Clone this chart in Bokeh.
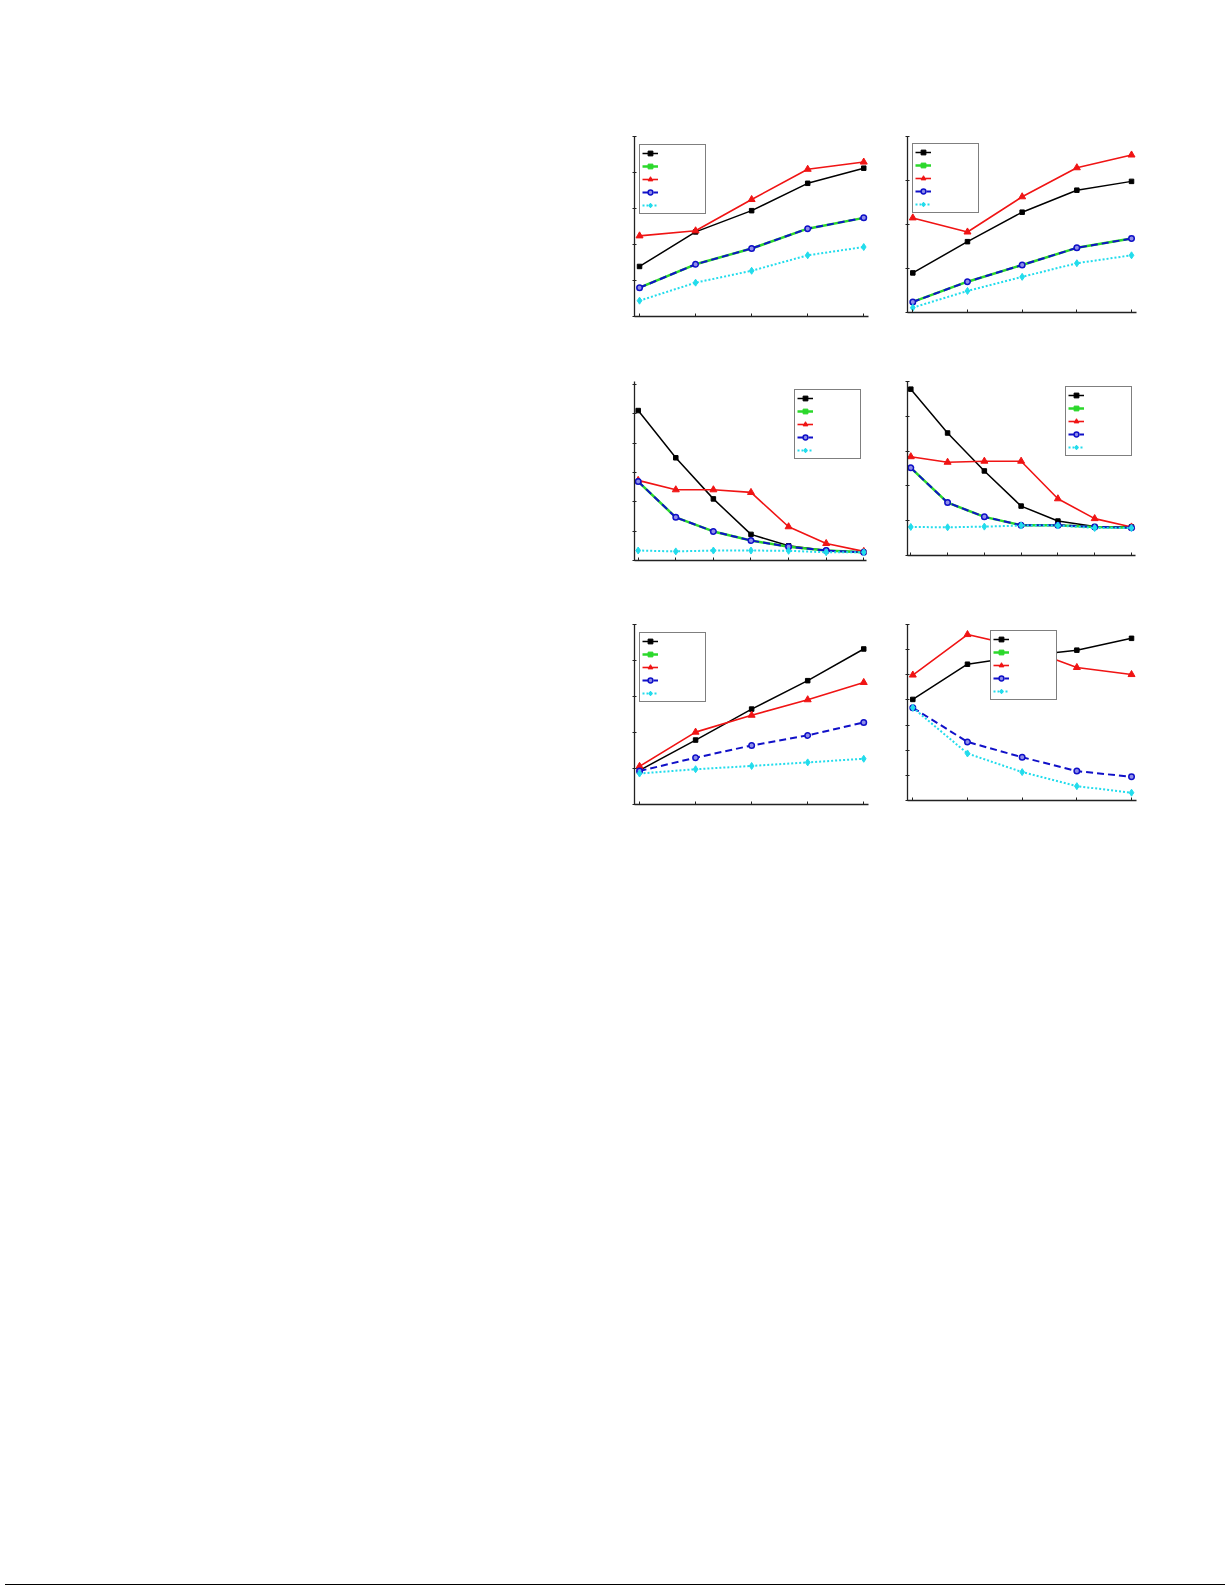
from bokeh.plotting import figure
from bokeh.models import (Range1d, FixedTicker, Legend, LegendItem, Spacer, Div,
                          CustomJSTickFormatter)
from bokeh.layouts import row, column
from bokeh.embed import file_html
from bokeh.resources import INLINE

NaN = float("nan")

# ---------------- data (values in y-tick units) -------------
x5 = [1, 2, 3, 4, 5]
x7 = [1, 2, 3, 4, 5, 6, 7]

p1_black = [1.39, 2.35, 2.94, 3.70, 4.12]
p1_green = [0.80, 1.45, 1.89, 2.44, 2.74]
p1_red = [2.24, 2.38, 3.25, 4.09, 4.29]
p1_blue = [0.80, 1.45, 1.89, 2.44, 2.74]
p1_cyan = [0.44, 0.94, 1.27, 1.70, 1.93]

p2_black = [0.90, 1.61, 2.28, 2.78, 2.98]
p2_green = [0.24, 0.70, 1.08, 1.47, 1.68]
p2_red = [2.15, 1.83, 2.63, 3.29, 3.58]
p2_blue = [0.24, 0.70, 1.08, 1.47, 1.68]
p2_cyan = [0.11, 0.49, 0.81, 1.12, 1.30]

p3_black = [5.11, 3.50, 2.10, 0.89, 0.50, 0.34, 0.28]
p3_green = [2.69, 1.47, 0.99, 0.68, 0.47, 0.34, 0.28]
p3_red = [2.73, 2.41, 2.41, 2.32, 1.15, 0.58, 0.31]
p3_blue = [2.69, 1.47, 0.99, 0.68, 0.47, 0.34, 0.28]
p3_cyan = [0.34, 0.31, 0.34, 0.34, 0.33, 0.28, 0.28]

p4_black = [4.78, 3.52, 2.43, 1.42, 0.99, 0.83, 0.82]
p4_green = [2.52, 1.52, 1.11, 0.87, 0.87, 0.82, 0.80]
p4_red = [2.84, 2.68, 2.71, 2.71, 1.63, 1.06, 0.82]
p4_blue = [2.52, 1.52, 1.11, 0.87, 0.87, 0.82, 0.80]
p4_cyan = [0.82, 0.81, 0.83, 0.86, 0.86, 0.79, 0.79]

p5_black = [0.95, 1.79, 2.65, 3.44, 4.32]
p5_green = [NaN, NaN, NaN, NaN, NaN]   # not drawn in this panel (legend only)
p5_red = [1.06, 2.01, 2.48, 2.91, 3.39]
p5_blue = [0.93, 1.30, 1.64, 1.92, 2.28]
p5_cyan = [0.86, 0.98, 1.07, 1.17, 1.27]

p6_black = [4.02, 5.42, 5.74, 5.98, 6.45]
p6_green = [NaN, NaN, NaN, NaN, NaN]   # not drawn in this panel (legend only)
p6_red = [4.99, 6.60, 6.10, 5.29, 5.01]
p6_blue = [3.69, 2.33, 1.72, 1.17, 0.94]
p6_cyan = [3.69, 1.87, 1.13, 0.57, 0.31]

series_order = ["black", "green", "red", "blue", "cyan"]

STYLE = {
    "black": dict(color="#000000", lw=1.5, dash="solid", marker="square", size=4.5,
                  fill="#000000", mlw=1),
    "green": dict(color="#2bd82b", lw=2.5, dash="solid", marker="square", size=4,
                  fill="#2bd82b", mlw=1),
    "red": dict(color="#f01414", lw=1.6, dash="solid", marker="triangle", size=7,
                fill="#f01414", mlw=1),
    "blue": dict(color="#1010c8", lw=2.0, dash="7 4", marker="circle", size=5.5,
                 fill="#8f8fe8", mlw=1.5),
    "cyan": dict(color="#22dcec", lw=2.0, dash="2 2", marker="diamond", size=7,
                 fill="#22dcec", mlw=1),
}


def make_panel(xs, data, xr, ymax, nyt, fw, fh, bl, br, bt, bb, leg_loc):
    p = figure(frame_width=fw, frame_height=fh,
               x_range=Range1d(*xr), y_range=Range1d(0, ymax),
               toolbar_location=None, output_backend="svg",
               min_border_left=bl, min_border_right=br,
               min_border_top=bt, min_border_bottom=bb)
    p.outline_line_color = None
    p.grid.visible = False
    p.background_fill_color = "white"
    p.border_fill_color = "white"
    for ax in (p.xaxis[0], p.yaxis[0]):
        ax.axis_line_color = "#222222"
        ax.axis_line_width = 1.3
        ax.major_tick_line_color = "#222222"
        ax.major_tick_line_width = 1
        ax.minor_tick_line_color = None
        ax.formatter = CustomJSTickFormatter(code="return ''")
        ax.major_label_standoff = 0
    p.xaxis[0].ticker = FixedTicker(ticks=list(xs))
    p.xaxis[0].major_tick_in = 3
    p.xaxis[0].major_tick_out = 0
    p.yaxis[0].ticker = FixedTicker(ticks=list(range(0, nyt + 1)))
    p.yaxis[0].major_tick_in = 2
    p.yaxis[0].major_tick_out = 2

    items = []
    for key in series_order:
        ys = data[key]
        st = STYLE[key]
        xx = xs[:len(ys)]
        rl = p.line(xx, ys, line_color=st["color"], line_width=st["lw"],
                    line_dash=st["dash"])
        rm = p.scatter(xx, ys, marker=st["marker"], size=st["size"],
                       line_color=st["color"], fill_color=st["fill"],
                       line_width=st["mlw"])
        items.append(LegendItem(label=" ", renderers=[rl, rm]))
    leg = Legend(items=items, location=leg_loc, margin=0, padding=2,
                 spacing=1, glyph_width=16, glyph_height=12, label_height=12,
                 label_width=40, label_standoff=5, label_text_font_size="8px",
                 border_line_color="black", border_line_width=1,
                 background_fill_color="white", background_fill_alpha=1.0)
    p.add_layout(leg)
    return p


p1 = make_panel(x5, dict(black=p1_black, green=p1_green, red=p1_red, blue=p1_blue, cyan=p1_cyan),
                (0.91, 5.085), 5, 5, 234, 180, 30, 9, 34, 26, (5, 102))
p2 = make_panel(x5, dict(black=p2_black, green=p2_green, red=p2_red, blue=p2_blue, cyan=p2_cyan),
                (0.903, 5.091), 4, 4, 229, 176, 30, 10, 36, 28, (5, 99))
p3 = make_panel(x7, dict(black=p3_black, green=p3_green, red=p3_red, blue=p3_blue, cyan=p3_cyan),
                (0.902, 7.072), 6.1, 6, 232, 179, 30, 11, 38, 33, (160, 101))
p4 = make_panel(x7, dict(black=p4_black, green=p4_green, red=p4_red, blue=p4_blue, cyan=p4_cyan),
                (0.91, 7.11), 5, 5, 228, 174, 30, 10, 41, 35, (158, 99))
p5 = make_panel(x5, dict(black=p5_black, green=p5_green, red=p5_red, blue=p5_blue, cyan=p5_cyan),
                (0.91, 5.085), 5, 5, 234, 180, 30, 9, 31, 29, (5, 102))
p6 = make_panel(x5, dict(black=p6_black, green=p6_green, red=p6_red, blue=p6_blue, cyan=p6_cyan),
                (0.903, 5.091), 7, 7, 229, 176, 30, 10, 34, 30, (83, 100))

bottom_rule = Div(text="", width=1225, height=2,
                  styles={"background-color": "#000000"})

layout = column(
    Spacer(height=100),
    row(Spacer(width=604), p1, p2),
    row(Spacer(width=604), p3, p4),
    row(Spacer(width=604), p5, p6),
    Spacer(height=749),
    bottom_rule,
)

open("out.html", "w").write(file_html(layout, INLINE))
